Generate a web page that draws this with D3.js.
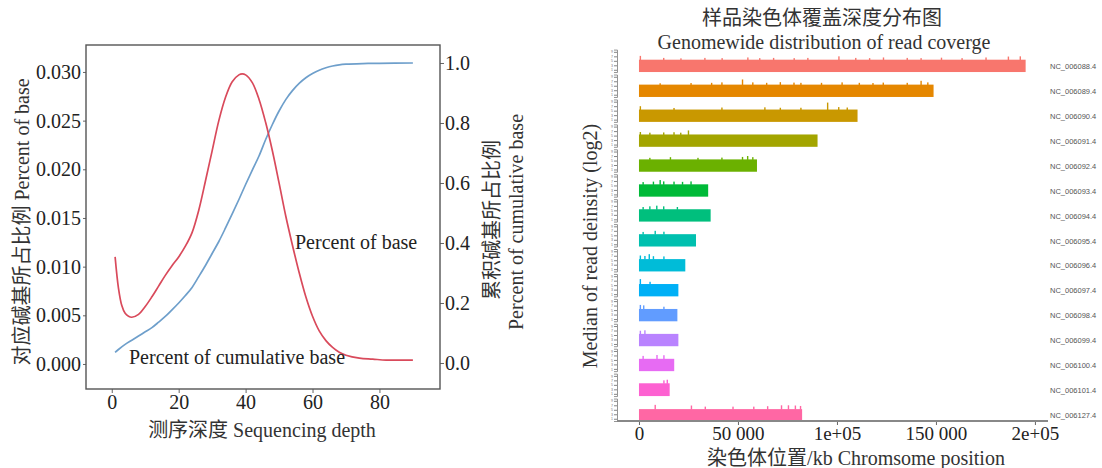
<!DOCTYPE html>
<html><head><meta charset="utf-8">
<script src="https://cdn.jsdelivr.net/npm/d3@7"></script>
<style>
body{margin:0;background:#fff;}
svg{display:block;}
text{font-family:"Liberation Serif","Noto Sans CJK SC",serif;}
</style>
</head><body>
<svg id="c" width="1102" height="468"></svg>
<script>
// ---------- Left panel data ----------
const depthBase = [1,2,3,4,5,6,8,10,12,14,16,18,20,22,24,26,28,30,32,34,36,38,39,40,42,44,46,48,50,52,54,56,58,60,62,64,66,68,70,74,78,82,86,90];
const pctBase = [0.0110,0.0078,0.0060,0.0052,0.0049,0.0048,0.0051,0.0059,0.0069,0.0080,0.0091,0.0101,0.0110,0.0121,0.0135,0.0158,0.0188,0.0219,0.0250,0.0274,0.0290,0.0297,0.0298,0.0297,0.0289,0.0272,0.0248,0.0219,0.0186,0.0152,0.0122,0.0094,0.0069,0.0049,0.0034,0.0024,0.0017,0.0012,0.0009,0.0006,0.0005,0.0004,0.0004,0.0004];
const depthCum = [1,2,4,6,8,10,12,14,16,18,20,22,24,26,28,30,32,34,36,38,40,42,44,46,48,50,52,54,56,58,60,62,64,66,68,70,75,80,90];
const pctCum = [0.035,0.045,0.062,0.076,0.090,0.104,0.118,0.136,0.155,0.177,0.200,0.225,0.252,0.288,0.325,0.365,0.405,0.450,0.497,0.545,0.595,0.643,0.690,0.745,0.795,0.840,0.878,0.908,0.932,0.951,0.965,0.976,0.984,0.990,0.994,0.996,0.998,0.999,1.000];
const leftTicks = [0,0.005,0.010,0.015,0.020,0.025,0.030];
const rightTicks = [0,0.2,0.4,0.6,0.8,1.0];
const depthTicks = [0,20,40,60,80];

// ---------- Right panel data ----------
const chroms = ["NC_006088.4","NC_006089.4","NC_006090.4","NC_006091.4","NC_006092.4","NC_006093.4","NC_006094.4","NC_006095.4","NC_006096.4","NC_006097.4","NC_006098.4","NC_006099.4","NC_006100.4","NC_006101.4","NC_006127.4"];
const chromLen = [195300,148800,110400,90200,59600,34950,36200,28800,23400,19900,19400,19900,17800,15500,82400];
const baseLevel = [5.5,5.5,5.5,5.5,5.5,5.5,5.5,5.5,5.5,5.5,5.5,5.5,5.5,5.7,5.3];
const spikes = [
  [[700,7.2],[12500,6.3],[21200,6.1],[33300,6.3],[42000,6.2],[55000,6.5],[61000,6.2],[68000,6.3],[78400,6.2],[85300,6.3],[101000,7.0],[109500,6.3],[116500,6.2],[123500,6.5],[135500,6.3],[142500,6.2],[152800,6.4],[163200,6.2],[175300,6.5],[186600,6.9],[192600,7.0]],
  [[10700,6.1],[26300,6.2],[36700,6.3],[41900,6.5],[52300,7.8],[57500,6.5],[64500,6.3],[71400,6.6],[78300,6.4],[81800,6.3],[92200,6.3],[102600,6.5],[111300,6.3],[118200,6.2],[123400,6.4],[135500,6.3],[142500,7.2],[145900,6.5]],
  [[700,7.0],[17700,6.2],[41900,6.4],[63600,6.5],[71400,6.3],[81800,6.3],[95300,8.6],[100900,6.6],[105200,6.4]],
  [[700,6.6],[5500,6.3],[12500,6.4],[17700,6.5],[21100,6.3],[25000,7.3]],
  [[5500,6.2],[15900,6.5],[29800,6.2],[41900,6.3],[52300,6.6],[54900,7.0],[57500,6.5]],
  [[2100,6.5],[7300,6.7],[10700,7.4],[12500,6.8],[17700,6.7],[22000,6.6],[26300,6.8]],
  [[2100,6.5],[5500,6.8],[9000,7.1],[12500,6.8],[19400,6.5]],
  [[2100,6.5],[8200,7.0],[12600,6.6]],
  [[700,7.1],[3000,6.9],[5200,7.7],[7300,6.8],[12600,6.7]],
  [[700,7.7],[5600,6.5]],
  [[700,7.3],[2400,7.1],[12600,6.5]],
  [[700,6.9],[3000,7.1]],
  [[2100,6.8],[9100,7.2],[12600,7.1]],
  [[12600,7.0],[14300,7.3]],
  [[8200,7.2],[26500,6.9],[33500,6.4],[47500,6.4],[58000,6.4],[65000,6.6],[72000,7.0],[75500,7.0],[79000,6.9],[81600,6.7]]
];
const posTicks = [0,50000,100000,150000,200000];
const posTickLabels = ["0","50 000","1e+05","150 000","2e+05"];
const facetTicks = [1,3,5,7,9];

const chromColors = ["#F8766D","#E58700","#C99800","#A3A500","#6BB100","#00BA38","#00BF7D","#00C0AF","#00BCD8","#00B0F6","#619CFF","#B983FF","#E76BF3","#FD61D1","#FF67A4"];

const svg = d3.select("#c");

// ================= LEFT PANEL =================
const x = d3.scaleLinear().domain([-7.7, 98.1]).range([86, 440]);
const yL = d3.scaleLinear().domain([-0.00257, 0.03277]).range([389, 45]);
const yR = d3.scaleLinear().domain([-0.0867, 1.06]).range([389, 45]);

const gL = svg.append("g");

function styleAxis(g, size){
  g.select(".domain").remove();
  g.selectAll(".tick line").attr("stroke","#666").attr("stroke-width",1);
  g.selectAll(".tick text").attr("fill","#222").style("font-size",size+"px")
    .style("font-family",'"Liberation Serif",serif');
}

gL.append("g").attr("transform","translate(86,0)")
  .call(d3.axisLeft(yL).tickValues(leftTicks).tickFormat(d3.format(".3f")).tickSize(3).tickPadding(2))
  .call(g=>styleAxis(g,20));
gL.append("g").attr("transform","translate(440,0)")
  .call(d3.axisRight(yR).tickValues(rightTicks).tickFormat(d3.format(".1f")).tickSize(4).tickPadding(1))
  .call(g=>styleAxis(g,20));
gL.append("g").attr("transform","translate(0,389)")
  .call(d3.axisBottom(x).tickValues(depthTicks).tickSize(4).tickPadding(2))
  .call(g=>styleAxis(g,20));

gL.append("rect").attr("x",86).attr("y",45).attr("width",354).attr("height",344)
  .attr("fill","none").attr("stroke","#555").attr("stroke-width",1.4);

const lineRed = d3.line().x((d,i)=>x(depthBase[i])).y(d=>yL(d)).curve(d3.curveCatmullRom);
const lineBlue = d3.line().x((d,i)=>x(depthCum[i])).y(d=>yR(d)).curve(d3.curveCatmullRom);
gL.append("path").attr("d",lineBlue(pctCum)).attr("fill","none").attr("stroke","#6E9FCB").attr("stroke-width",1.7);
gL.append("path").attr("d",lineRed(pctBase)).attr("fill","none").attr("stroke","#D94A5B").attr("stroke-width",1.7);

gL.append("text").attr("x",295).attr("y",242).attr("dominant-baseline","central")
  .attr("fill","#222").style("font-size","20px").text("Percent of base");
gL.append("text").attr("x",129).attr("y",357).attr("dominant-baseline","central")
  .attr("fill","#222").style("font-size","20px").text("Percent of cumulative base");

gL.append("text").attr("transform","translate(22,222) rotate(-90)").attr("text-anchor","middle")
  .attr("dominant-baseline","central").attr("fill","#333").style("font-size","20px")
  .text("对应碱基所占比例 Percent of base");
gL.append("text").attr("transform","translate(492,220) rotate(-90)").attr("text-anchor","middle")
  .attr("dominant-baseline","central").attr("fill","#333").style("font-size","20px")
  .text("累积碱基所占比例");
gL.append("text").attr("transform","translate(516,222) rotate(-90)").attr("text-anchor","middle")
  .attr("dominant-baseline","central").attr("fill","#333").style("font-size","20px")
  .text("Percent of cumulative base");
gL.append("text").attr("x",262).attr("y",430).attr("text-anchor","middle")
  .attr("dominant-baseline","central").attr("fill","#333").style("font-size","20px")
  .text("测序深度 Sequencing depth");

// ================= RIGHT PANEL =================
const xR = d3.scaleLinear().domain([-11100, 206600]).range([617, 1048]);
const yBand = d3.scaleBand().domain(chroms).range([49.6, 421]).paddingInner(0.1).paddingOuter(0);
const bw = yBand.bandwidth();
const yF = d3.scaleLinear().domain([0, 10]).range([bw, 0]);

const gR = svg.append("g");

chroms.forEach((c, i) => {
  const g = gR.append("g").attr("transform", `translate(0,${yBand(c)})`);
  // mini facet axis
  g.append("g").attr("transform","translate(617,0)")
    .call(d3.axisLeft(yF).tickValues(facetTicks).tickFormat(d3.format("d")).tickSize(3).tickPadding(1))
    .call(a=>{
      a.select(".domain").attr("stroke","#888").attr("stroke-width",0.9);
      a.selectAll(".tick line").attr("stroke","#777").attr("stroke-width",0.9);
      a.selectAll(".tick text").attr("fill","#777").style("font-size","3.5px")
        .style("font-family",'"Liberation Sans",sans-serif');
    });
  // base bar
  g.append("rect")
    .attr("x", xR(0)).attr("width", xR(chromLen[i]) - xR(0))
    .attr("y", yF(baseLevel[i])).attr("height", yF(0) - yF(baseLevel[i]))
    .attr("fill", chromColors[i]);
  // spikes
  g.selectAll("rect.spike").data(spikes[i]).join("rect").attr("class","spike")
    .attr("x", d => xR(d[0]) - 0.7).attr("width", 1.4)
    .attr("y", d => yF(d[1])).attr("height", d => yF(baseLevel[i]) - yF(d[1]) + 0.5)
    .attr("fill", chromColors[i]);
  // row label
  g.append("text").attr("x", 1050).attr("y", bw - 5.5).attr("dominant-baseline","central")
    .attr("fill","#555").style("font-size","7.5px").style("font-family",'"Liberation Sans",sans-serif')
    .text(c);
});

// x axis
gR.append("line").attr("x1",617).attr("x2",1048).attr("y1",421).attr("y2",421)
  .attr("stroke","#888").attr("stroke-width",2);
gR.append("g").attr("transform","translate(0,422)")
  .call(d3.axisBottom(xR).tickValues(posTicks).tickFormat((d,i)=>posTickLabels[i]).tickSize(3).tickPadding(2))
  .call(g=>styleAxis(g,19));

gR.append("text").attr("transform","translate(590,246) rotate(-90)").attr("text-anchor","middle")
  .attr("dominant-baseline","central").attr("fill","#333").style("font-size","20px")
  .text("Median of read deinsity (log2)");
gR.append("text").attr("x",856).attr("y",458).attr("text-anchor","middle")
  .attr("dominant-baseline","central").attr("fill","#333").style("font-size","20px")
  .text("染色体位置/kb Chromsome position");
gR.append("text").attr("x",822).attr("y",18).attr("text-anchor","middle")
  .attr("dominant-baseline","central").attr("fill","#333").style("font-size","20px")
  .text("样品染色体覆盖深度分布图");
gR.append("text").attr("x",824).attr("y",42).attr("text-anchor","middle")
  .attr("dominant-baseline","central").attr("fill","#333").style("font-size","20px")
  .text("Genomewide distribution of read coverge");
</script>
</body></html>
